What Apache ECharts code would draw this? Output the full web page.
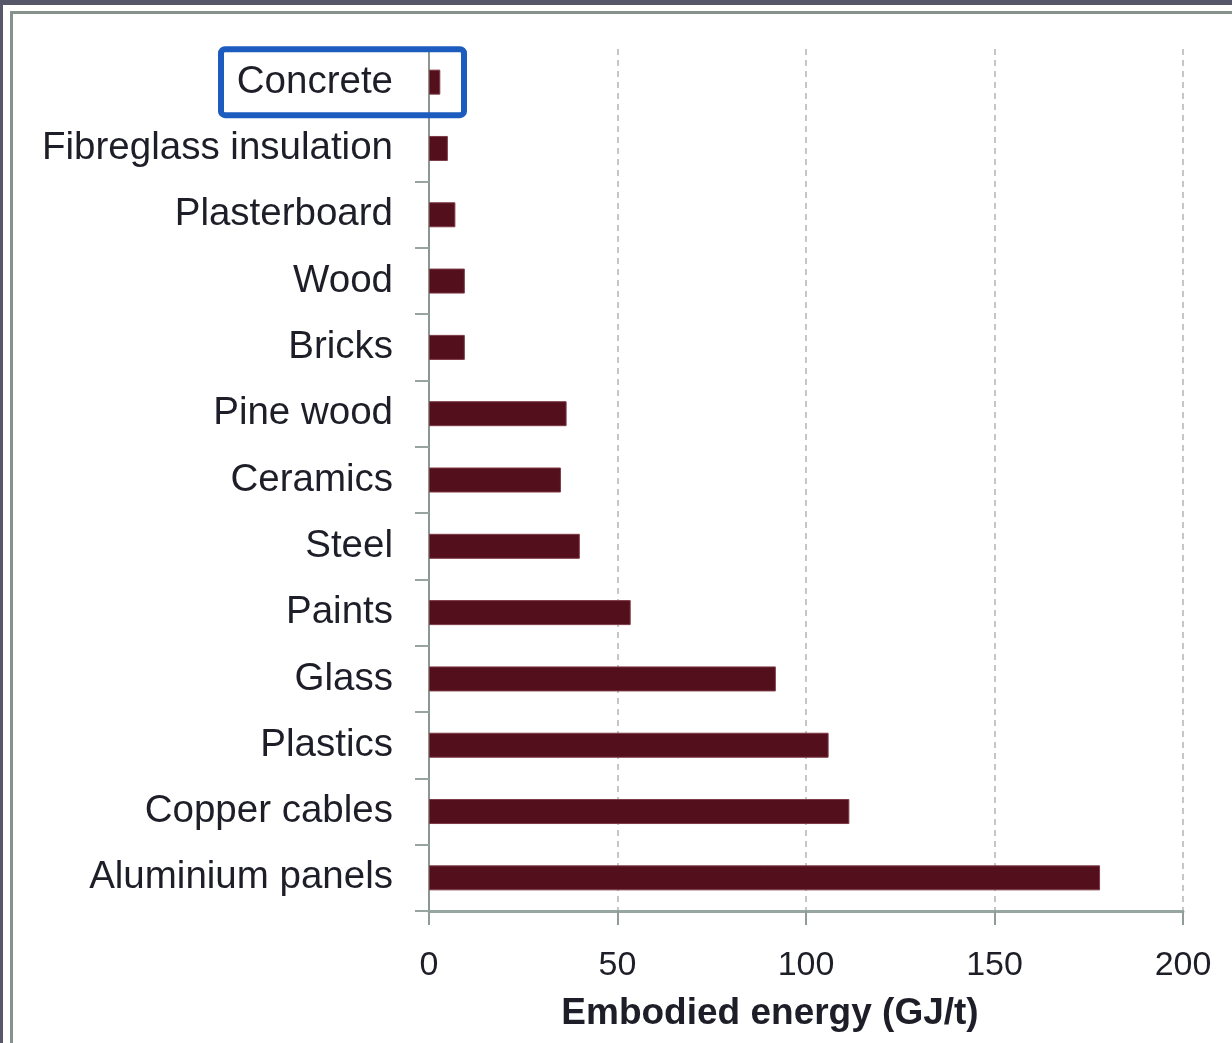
<!DOCTYPE html>
<html>
<head>
<meta charset="utf-8">
<title>Embodied energy of building materials</title>
<script src="https://cdn.jsdelivr.net/npm/echarts@6/dist/echarts.min.js"></script>
<style>
  html, body { margin: 0; padding: 0; width: 1232px; height: 1043px; overflow: hidden; background: #565869; }
  #panel { position: absolute; left: 3px; top: 5px; right: 0; bottom: 0; background: #ffffff; }
  #panel::before { content: ""; position: absolute; left: 7px; top: 6px; right: -20px; bottom: -20px; border: 3px solid #87928d; }
  #chart { position: absolute; left: 0; top: 0; width: 1232px; height: 1043px; }
</style>
</head>
<body>
<div id="panel"></div>
<div id="chart"></div>
<script>
// Materials, listed top to bottom
const materials = [
  'Concrete', 'Fibreglass insulation', 'Plasterboard', 'Wood', 'Bricks',
  'Pine wood', 'Ceramics', 'Steel', 'Paints', 'Glass', 'Plastics',
  'Copper cables', 'Aluminium panels'
];
// Embodied energy per material, GJ/t
const embodiedEnergy = [3, 5, 7, 9.5, 9.5, 36.5, 35, 40, 53.5, 92, 106, 111.5, 178];
// Value axis ticks
const energyTicks = [0, 50, 100, 150, 200];
const axisTitle = 'Embodied energy (GJ/t)';
const highlighted = 'Concrete';

const textColor = '#1e1e28';
const font = '"Liberation Sans", Arial, sans-serif';

const chart = echarts.init(document.getElementById('chart'), null, { renderer: 'canvas' });

const option = {
  backgroundColor: 'transparent',
  animation: false,
  grid: { left: 429, right: 49, top: 49, bottom: 132, containLabel: false },
  xAxis: {
    type: 'value',
    min: energyTicks[0],
    max: energyTicks[energyTicks.length - 1],
    interval: energyTicks[1] - energyTicks[0],
    axisLine: { show: true, lineStyle: { color: '#97a6a2', width: 3 } },
    axisTick: { show: true, length: 14, lineStyle: { color: '#8f9c98', width: 2 } },
    axisLabel: {
      margin: 38,
      color: textColor,
      fontFamily: font,
      fontSize: 34
    },
    splitLine: {
      show: true,
      showMinLine: false,
      lineStyle: { color: '#b4b4b4', width: 1.5, type: [6, 5] }
    }
  },
  yAxis: {
    type: 'category',
    data: materials,
    inverse: true,
    axisLine: { show: true, lineStyle: { color: '#8a9894', width: 2 } },
    axisTick: { show: true, length: 14, alignWithLabel: false, lineStyle: { color: '#97a4a0', width: 2 } },
    axisLabel: {
      margin: 36,
      color: textColor,
      fontFamily: font,
      fontSize: 38.5
    },
    splitLine: { show: false }
  },
  series: [{
    type: 'bar',
    data: embodiedEnergy,
    barWidth: 25,
    itemStyle: { color: '#530f1b', borderColor: '#7d3a45', borderWidth: 1 },
    emphasis: { disabled: true }
  }],
  title: {
    text: axisTitle,
    left: 765,
    top: 990,
    textAlign: 'center',
    textStyle: {
      color: textColor,
      fontFamily: font,
      fontWeight: 'bold',
      fontSize: 37
    }
  }
};

chart.setOption(option);

// Outline the highlighted material's label and bar
const cy = chart.convertToPixel({ yAxisIndex: 0 }, highlighted);
chart.setOption({
  graphic: [{
    type: 'rect',
    shape: { x: 221, y: cy - 33, width: 243, height: 66, r: 4 },
    style: { fill: 'none', stroke: '#1c5cbf', lineWidth: 6 },
    z: 10
  }]
});
</script>
</body>
</html>
